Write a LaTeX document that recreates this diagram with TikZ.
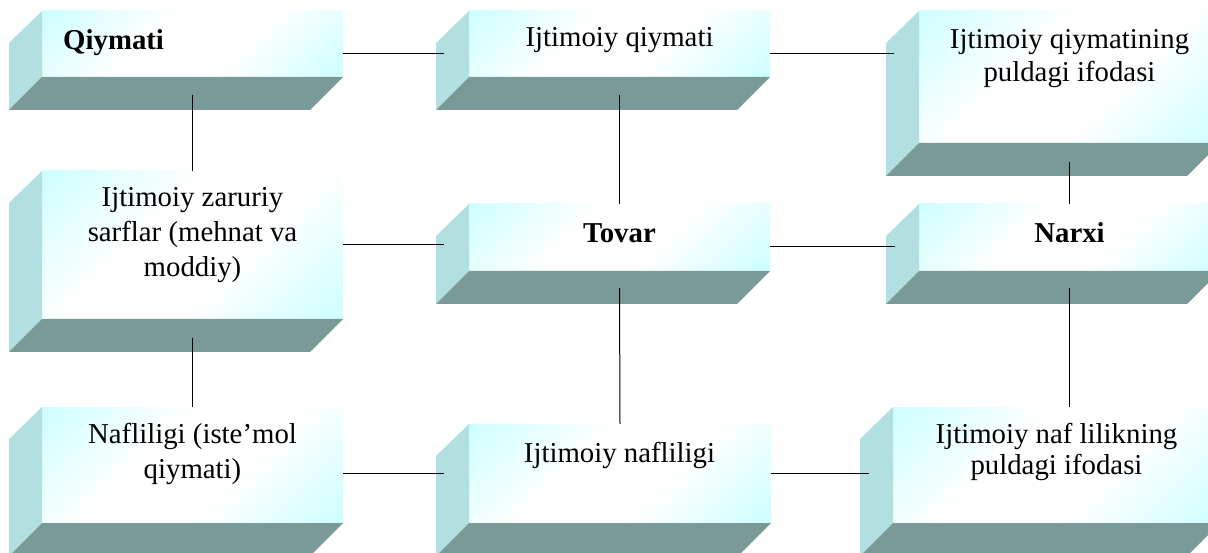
\documentclass[tikz,border=0pt]{standalone}
\usepackage{fontspec}
\setmainfont{Liberation Serif}
\definecolor{frontc}{HTML}{CCFFFF}
\definecolor{sidec}{HTML}{B2DFE0}
\definecolor{botc}{HTML}{799A97}
\pgfdeclareverticalshading{frontshade}{100bp}{color(0bp)=(frontc); color(14bp)=(frontc);
  color(40bp)=(white); color(60bp)=(white); color(86bp)=(frontc); color(100bp)=(frontc)}
\begin{document}
\begin{tikzpicture}[x=1pt,y=-1pt,
  front/.style={rectangle, inner sep=0pt, outer sep=0pt, anchor=north west,
    shading=frontshade, shading angle=45},
  txt/.style={font=\fontsize{28.8}{33}\selectfont, inner sep=0pt, anchor=base, align=center},
  bold/.style={txt, font=\fontsize{28.8}{33}\selectfont\bfseries},
  sideface/.style={fill=sidec},
  botface/.style={fill=botc},
  link/.style={draw=black, line width=1pt}]
\clip (0,0) rectangle (1208,553);
% front faces
\node[front, minimum width=301pt, minimum height=66pt]  (f1) at (42,11)  {};
\node[front, minimum width=301pt, minimum height=66pt]  (f2) at (469,11) {};
\node[front, minimum width=301pt, minimum height=132pt] (f3) at (919,11) {};
\node[front, minimum width=301pt, minimum height=148pt] (f4) at (42,171) {};
\node[front, minimum width=301pt, minimum height=67pt]  (f5) at (469,204) {};
\node[front, minimum width=301pt, minimum height=67pt]  (f6) at (919,204) {};
\node[front, minimum width=301pt, minimum height=116pt] (f7) at (42,407) {};
\node[front, minimum width=302pt, minimum height=99pt]  (f8) at (469,424) {};
\node[front, minimum width=327pt, minimum height=116pt] (f9) at (893,407) {};
% side and bottom faces
\foreach \n in {f1,f2,f3,f4,f5,f6,f7,f8,f9}{
  \fill[sideface] (\n.north west) -- (\n.south west) -- ++(-33,33)
    -- ([shift={(-33,32)}]\n.north west) -- cycle;
  \fill[botface] (\n.south west) -- (\n.south east) -- ++(-33,33)
    -- ([shift={(-33,33)}]\n.south west) -- cycle;
}
% texts (anchor base = baseline of the last line)
\node[bold, anchor=base west] (t1) at (63,50) {Qiymati};
\node[txt] (t2) at (619.5,47) {Ijtimoiy qiymati};
\node[txt] (t3) at (1069.5,81.5) {Ijtimoiy qiymatining\\puldagi ifodasi};
\node[txt, font=\fontsize{28.8}{35}\selectfont] (t4) at (192.5,277) {Ijtimoiy zaruriy\\sarflar (mehnat va\\moddiy)};
\node[bold] (t5) at (619.5,243) {Tovar};
\node[bold] (t6) at (1069.5,243) {Narxi};
\node[txt, font=\fontsize{28.8}{35}\selectfont] (t7) at (192.5,478) {Nafliligi (iste’mol\\qiymati)};
\node[txt] (t8) at (619.5,462) {Ijtimoiy nafliligi};
\node[txt, font=\fontsize{28.8}{31}\selectfont] (t9) at (1056.5,474) {Ijtimoiy naf lilikning\\puldagi ifodasi};
% connectors
\draw[link] ([yshift=-43pt]f1.north east) -- ([xshift=-25pt,yshift=-43pt]f2.north west);
\draw[link] ([yshift=-43pt]f2.north east) -- ([xshift=-25pt,yshift=-43pt]f3.north west);
\draw[link] ([yshift=-18pt]f1.south) -- (f4.north);
\draw[link] ([yshift=-19pt]f4.south) -- (f7.north);
\draw[link] ([yshift=-18pt]f2.south) -- (f5.north);
\draw[link] ([yshift=-17pt]f5.south) -- (f8.north);
\draw[link] ([yshift=-19pt]f3.south) -- (f6.north);
\draw[link] ([yshift=-17pt]f6.south) -- (f6.south |- f9.north);
\draw[link] (f4.east) -- ([xshift=-25pt]f5.west |- f4.east);
\draw[link] ([yshift=-43pt]f5.north east) -- ([xshift=-24pt,yshift=-43pt]f6.north west);
\draw[link] ([yshift=-66pt]f7.north east) -- ([xshift=-25pt,yshift=-49pt]f8.north west);
\draw[link] (f8.east) -- ([xshift=-24pt]f9.west |- f8.east);
\end{tikzpicture}
\end{document}
